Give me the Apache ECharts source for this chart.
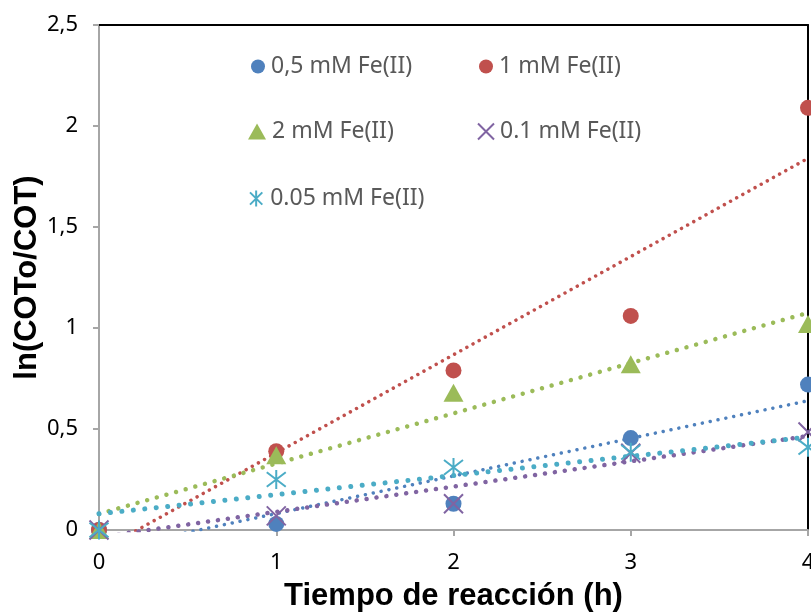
<!DOCTYPE html>
<html><head><meta charset="utf-8">
<script src="https://cdn.jsdelivr.net/npm/echarts@6/dist/echarts.min.js"></script>
<style>html,body{margin:0;padding:0;background:#fff}#c{width:811px;height:612px}</style>
</head><body><div id="c"></div>
<script>
// Data
const times = [0, 1, 2, 3, 4];
const fe05 = [0, 0.03, 0.13, 0.455, 0.72];
const fe1 = [0, 0.39, 0.79, 1.06, 2.09];
const fe2 = [0, 0.37, 0.68, 0.82, 1.02];
const fe01 = [0, 0.07, 0.13, 0.38, 0.485];
const fe005 = [0, 0.25, 0.31, 0.385, 0.41];
// trendline end values read at x = 0 and x = 4
const trendX = [0, 4];
const trend05 = [-0.105, 0.64];
const trend1 = [-0.105, 1.84];
const trend2 = [0.08, 1.075];
const trend01 = [-0.035, 0.465];
const trend005 = [0.08, 0.46];
const xTickLabels = ['0', '1', '2', '3', '4'];
const yTickLabels = ['0', '0,5', '1', '1,5', '2', '2,5'];
const names = ['0,5 mM Fe(II)', '1 mM Fe(II)', '2 mM Fe(II)', '0.1 mM Fe(II)', '0.05 mM Fe(II)'];

const colors = ['#4F81BD', '#C0504D', '#9BBB59', '#8064A2', '#4BACC6'];
const xPath = 'path://M0,0L10,10M10,0L0,10';
const starPath = 'path://M0,0L10,10M10,0L0,10M5,-1.5L5,11.5';
const font = '"Noto Sans", "Open Sans", sans-serif';

const pts = (ys) => times.map((t, i) => [t, ys[i]]);
const tl = (ys) => trendX.map((t, i) => [t, ys[i]]);

function trend(ys, color, width, gap) {
  return {
    type: 'line', data: tl(ys), symbol: 'none', silent: true, z: 1,
    lineStyle: { color: color, width: width, type: [0.01, gap], cap: 'round', opacity: 1 },
    clip: true
  };
}

const series = [
  trend(trend05, colors[0], 3.5, 8),
  trend(trend1, colors[1], 3.5, 7),
  trend(trend2, colors[2], 4.5, 10),
  trend(trend01, colors[3], 4.5, 10),
  trend(trend005, colors[4], 5, 11.5),
  { name: names[0], type: 'scatter', data: pts(fe05), symbol: 'circle', symbolSize: 16, z: 3, clip: false,
    itemStyle: { color: colors[0], opacity: 1 } },
  { name: names[1], type: 'scatter', data: pts(fe1), symbol: 'circle', symbolSize: 16, z: 3, clip: false,
    itemStyle: { color: colors[1], opacity: 1 } },
  { name: names[2], type: 'scatter', data: pts(fe2), symbol: 'triangle', symbolSize: [20, 18], z: 3, clip: false,
    itemStyle: { color: colors[2], opacity: 1 } },
  { name: names[3], type: 'scatter', data: pts(fe01), symbol: xPath, symbolSize: 19, z: 3, clip: false,
    itemStyle: { color: colors[3], borderColor: colors[3], borderWidth: 2, opacity: 1 } },
  { name: names[4], type: 'scatter', data: pts(fe005), symbol: starPath, symbolSize: 19, z: 3, clip: false,
    itemStyle: { color: colors[4], borderColor: colors[4], borderWidth: 2, opacity: 1 } }
];

function leg(name, left, cy, w, h) {
  return {
    data: [name], left: left, top: cy - 12, padding: 0, itemWidth: w, itemHeight: h,
    selectedMode: false, itemGap: 0,
    textStyle: { fontSize: 23, color: '#595959', fontFamily: font, padding: [0, 0, 0, 1] }
  };
}

const option = {
  animation: false,
  backgroundColor: '#fff',
  grid: { left: 99, right: 3, top: 25, bottom: 82, containLabel: false, outerBoundsMode: 'none' },
  legend: [
    leg(names[0], 251, 67, 14, 14),
    leg(names[1], 479, 67, 14, 14),
    leg(names[2], 248, 132, 18, 16),
    leg(names[3], 477, 132, 16, 16),
    leg(names[4], 249, 199, 16, 16)
  ],
  xAxis: [{
    type: 'value', min: 0, max: 4, interval: 1, position: 'bottom',
    name: 'Tiempo de reacción (h)', nameLocation: 'middle', nameGap: 51,
    nameTextStyle: { fontSize: 31, fontWeight: 'bold', color: '#000', fontFamily: '"Liberation Sans", Arial, sans-serif' },
    axisLine: { show: true, onZero: false, lineStyle: { color: '#A6A6A6', width: 2 } },
    axisTick: { show: true, length: 6, lineStyle: { color: '#A6A6A6', width: 2 } },
    axisLabel: { fontSize: 22, color: '#000', fontFamily: font, margin: 22,
      formatter: (v) => xTickLabels[Math.round(v)] },
    splitLine: { show: false }
  }, {
    type: 'value', min: 0, max: 4, interval: 1, position: 'top',
    axisLine: { show: true, onZero: false, lineStyle: { color: '#000', width: 2 } },
    axisTick: { show: false }, axisLabel: { show: false }, splitLine: { show: false }
  }],
  yAxis: [{
    type: 'value', min: 0, max: 2.5, interval: 0.5, position: 'left',
    name: 'ln(COTo/COT)', nameLocation: 'middle', nameGap: 56, nameRotate: 90, nameMoveOverlap: false,
    nameTextStyle: { fontSize: 31, fontWeight: 'bold', color: '#000', fontFamily: '"Liberation Sans", Arial, sans-serif' },
    axisLine: { show: true, onZero: false, lineStyle: { color: '#A6A6A6', width: 2 } },
    axisTick: { show: true, length: 6, lineStyle: { color: '#A6A6A6', width: 2 } },
    axisLabel: { fontSize: 22, color: '#000', fontFamily: font, margin: 21,
      formatter: (v) => yTickLabels[Math.round(v * 2)] },
    splitLine: { show: false }
  }, {
    type: 'value', min: 0, max: 2.5, interval: 0.5, position: 'right',
    axisLine: { show: true, onZero: false, lineStyle: { color: '#000', width: 2 } },
    axisTick: { show: false }, axisLabel: { show: false }, splitLine: { show: false }
  }],
  series: series
};

const chart = echarts.init(document.getElementById('c'), null, { renderer: 'canvas' });
chart.setOption(option);
</script>
</body></html>
